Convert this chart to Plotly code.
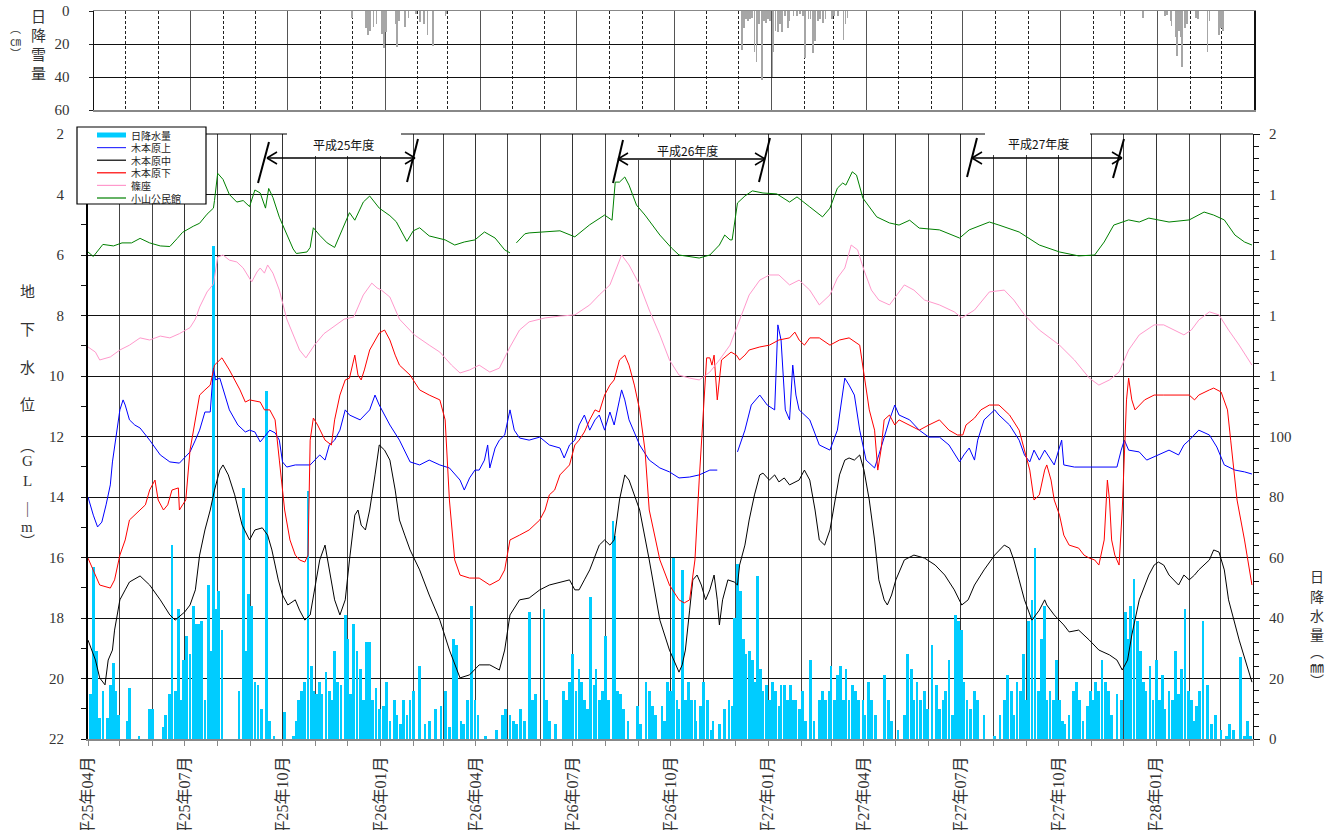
import plotly.graph_objects as go
import pandas as pd

START = pd.Timestamp("2013-04-01")
END = pd.Timestamp("2016-04-01")
DAY_MS = 86400000

# ---------------- data ----------------
quarter_ticks = ["2013-04-01", "2013-07-01", "2013-10-01", "2014-01-01", "2014-04-01", "2014-07-01",
                 "2014-10-01", "2015-01-01", "2015-04-01", "2015-07-01", "2015-10-01", "2016-01-01"]
quarter_labels = ["平25年04月", "平25年07月", "平25年10月", "平26年01月", "平26年04月", "平26年07月",
                  "平26年10月", "平27年01月", "平27年04月", "平27年07月", "平27年10月", "平28年01月"]
level_ticks = [2, 4, 6, 8, 10, 12, 14, 16, 18, 20, 22]
rain_ticks = [0, 20, 40, 60, 80, 100, 120, 140, 160, 180, 200]
rain_ticktext = ["0", "20", "40", "60", "80", "100", "1", "1", "1", "1", "2"]
snow_ticks = [0, 20, 40, 60]

# (days since 2013-04-01, value)
snow = [(244, 4), (257, 10), (259, 14.5), (261, 12), (264, 9.5), (267, 8), (272, 14), (274, 22.5), (276, 12.5),
        (285, 8), (286, 22), (288, 6), (294, 9.5), (297, 4.5), (304, 2), (308, 6.5), (312, 8), (315, 14.5),
        (320, 21), (332, 3), (333, 2),
        (612, 23.5), (614, 10), (616, 5), (618, 6), (620, 5), (622, 4), (624, 25), (626, 31), (627, 20), (628, 8),
        (631, 42), (633, 6), (635, 7), (637, 5), (639, 6), (641, 40), (642, 25), (644, 12), (646, 13), (648, 8),
        (650, 13), (653, 3), (656, 10), (657, 6), (661, 3), (664, 3), (667, 2), (670, 3), (672, 28.5), (675, 5),
        (677, 5), (679, 25.6), (681, 18), (684, 6), (686, 5), (689, 7), (691, 5), (697, 5), (699, 3), (703, 3),
        (708, 17.5), (710, 8), (712, 4),
        (970, 3), (991, 4.5), (1012, 3), (1014, 2.5), (1017, 6), (1018, 9), (1022, 16), (1023, 27), (1025, 12),
        (1027, 16), (1028, 34), (1031, 10.5), (1033, 8), (1041, 4), (1043, 5), (1052, 25), (1054, 6), (1063, 14.5),
        (1065, 10), (1067, 12)]

rain = [(2, 15), (5, 57), (8, 29), (11, 7), (14, 16), (18, 7), (21, 18), (24, 25), (26, 16), (29, 8), (37, 6),
        (39, 17), (48, 1), (58, 10), (61, 10), (71, 4), (73, 8), (77, 15), (79, 64), (82, 16), (85, 43), (87, 13),
        (90, 26), (93, 34), (96, 28), (99, 44), (102, 38), (104, 38), (107, 39), (110, 13), (113, 51), (116, 29),
        (118, 163), (120, 43), (123, 49), (126, 36), (142, 16), (146, 83), (149, 29), (151, 48), (154, 44),
        (157, 19), (160, 18), (163, 10), (168, 115), (171, 6), (175, 1), (185, 9), (193, 1), (196, 6), (198, 13),
        (201, 16), (204, 19), (207, 82), (210, 24), (212, 16), (215, 15), (218, 19), (220, 15), (224, 22),
        (227, 16), (229, 13), (232, 29), (235, 19), (238, 18), (242, 41), (244, 33), (247, 15), (250, 38),
        (253, 29), (256, 23), (259, 13), (262, 32), (265, 32), (268, 13), (271, 17), (274, 10), (278, 11),
        (281, 19), (284, 6), (288, 13), (290, 8), (294, 5), (297, 13), (300, 8), (303, 13), (306, 16), (312, 24),
        (317, 5), (321, 6), (327, 10), (332, 11), (336, 16), (340, 4), (344, 33), (347, 31), (351, 6), (353, 5),
        (357, 13), (361, 44), (364, 13), (367, 8), (374, 1), (384, 3), (390, 8), (393, 10), (397, 8), (400, 6),
        (403, 5), (407, 10), (411, 6), (415, 42), (418, 13), (421, 15), (429, 43), (431, 13), (434, 6), (440, 5),
        (447, 16), (450, 13), (453, 19), (456, 28), (459, 16), (462, 23), (464, 19), (467, 13), (470, 10),
        (473, 47), (476, 18), (478, 23), (481, 13), (484, 16), (487, 34), (490, 13), (494, 72), (495, 67),
        (498, 16), (501, 15), (504, 10), (508, 6), (517, 11), (520, 5), (525, 19), (528, 16), (531, 11), (534, 8),
        (540, 11), (542, 6), (545, 19), (548, 16), (551, 60), (554, 13), (556, 10), (559, 56), (562, 13),
        (565, 19), (568, 13), (571, 13), (572, 6), (576, 11), (579, 19), (583, 13), (586, 3), (588, 6), (594, 5),
        (599, 10), (603, 13), (606, 11), (608, 40), (611, 58), (614, 49), (617, 33), (619, 28), (622, 29),
        (625, 26), (628, 19), (630, 54), (633, 23), (635, 16), (638, 18), (641, 13), (644, 19), (647, 16),
        (650, 11), (652, 18), (655, 18), (658, 13), (661, 18), (664, 13), (666, 13), (669, 10), (672, 16),
        (675, 6), (680, 26), (683, 6), (688, 13), (691, 16), (694, 13), (697, 16), (699, 24), (702, 13), (705, 21),
        (708, 24), (711, 13), (713, 23), (716, 13), (719, 18), (722, 16), (725, 13), (729, 13), (731, 8),
        (734, 19), (737, 13), (741, 8), (749, 21), (753, 13), (756, 6), (762, 3), (768, 8), (771, 28), (775, 23),
        (777, 13), (780, 19), (783, 13), (787, 16), (790, 10), (794, 31), (798, 18), (801, 10), (805, 13),
        (807, 16), (810, 26), (813, 8), (816, 41), (819, 39), (822, 36), (824, 19), (827, 13), (830, 10),
        (834, 16), (837, 13), (843, 8), (853, 1), (858, 8), (862, 13), (865, 21), (869, 16), (871, 8), (874, 19),
        (877, 16), (880, 28), (883, 13), (885, 39), (888, 46), (891, 63), (894, 16), (897, 33), (900, 44),
        (902, 13), (905, 16), (908, 13), (911, 26), (914, 13), (917, 6), (919, 5), (923, 8), (927, 16), (930, 19),
        (933, 13), (936, 6), (940, 11), (943, 16), (946, 13), (948, 19), (951, 16), (954, 26), (957, 19),
        (960, 16), (963, 8), (968, 15), (972, 13), (976, 42), (979, 33), (981, 44), (984, 53), (987, 39),
        (990, 29), (993, 19), (995, 16), (999, 24), (1002, 13), (1005, 26), (1008, 13), (1011, 21), (1013, 10),
        (1017, 16), (1020, 13), (1023, 29), (1026, 15), (1029, 23), (1032, 43), (1035, 16), (1038, 13),
        (1041, 6), (1043, 11), (1046, 16), (1049, 39), (1053, 18), (1057, 5), (1061, 8), (1066, 3), (1071, 1),
        (1074, 5), (1078, 3), (1084, 27), (1088, 1), (1091, 6), (1094, 1)]

kimoto_upper = [(0, 14.00), (5, 14.60), (9, 14.99), (13, 14.83), (17, 14.26), (21, 13.60), (23, 12.84), (25, 12.35),
                (28, 11.45), (30, 11.12), (33, 10.79), (35, 10.96), (39, 11.45), (44, 11.62), (49, 11.72), (58, 12.12),
                (68, 12.61), (77, 12.84), (86, 12.88), (91, 12.71), (96, 12.51), (101, 12.12), (105, 11.79),
                (110, 11.19), (115, 11.19), (118, 9.74), (120, 10.13), (124, 10.07), (129, 10.63), (133, 11.12),
                (141, 11.62), (148, 11.85), (152, 11.79), (157, 11.85), (162, 12.18), (166, 12.02), (171, 11.79),
                (176, 11.88), (180, 12.12), (183, 12.84), (187, 13.01), (195, 12.94), (199, 12.94), (209, 12.94),
                (218, 12.61), (223, 12.78), (227, 12.28), (232, 12.12), (237, 11.79), (242, 11.12), (246, 11.29),
                (256, 11.45), (265, 11.12), (270, 10.63), (274, 10.96), (279, 11.29), (284, 11.62), (293, 12.12),
                (303, 12.84), (312, 12.94), (321, 12.78), (331, 12.94), (340, 13.04), (350, 13.44), (354, 13.77),
                (359, 13.37), (364, 13.11), (368, 13.11), (373, 12.78), (376, 12.28), (378, 13.04), (383, 12.38),
                (387, 12.12), (392, 11.95), (397, 11.12), (399, 11.45), (401, 11.79), (406, 12.05), (415, 12.12),
                (425, 12.02), (434, 12.28), (444, 12.38), (448, 12.71), (453, 12.28), (458, 12.12), (462, 11.62),
                (467, 11.29), (472, 11.79), (477, 11.45), (481, 11.29), (486, 11.79), (491, 11.19), (495, 11.62),
                (500, 10.79), (502, 10.46), (505, 10.79), (509, 11.45), (519, 12.28), (528, 12.78), (538, 13.04),
                (547, 13.17), (556, 13.37), (566, 13.34), (575, 13.27), (585, 13.11), (592, 13.11), (600, None),
                (611, 12.51), (618, 11.79), (624, 10.96), (632, 10.63), (639, 10.96), (646, 11.12), (649, 8.31),
                (652, 8.81), (656, 11.12), (660, 11.45), (663, 9.64), (666, 10.63), (669, 11.12), (679, 11.45),
                (688, 12.28), (698, 12.45), (705, 11.79), (709, 10.79), (712, 10.07), (716, 10.30), (721, 10.63),
                (726, 11.79), (732, 12.78), (740, 13.04), (744, 12.61), (754, 11.45), (759, 10.96), (763, 11.29),
                (773, 11.45), (782, 11.79), (791, 12.02), (801, 12.02), (810, 12.28), (820, 12.84), (824, 12.61),
                (829, 12.38), (834, 12.78), (837, 12.12), (843, 11.45), (853, 11.12), (857, 11.29), (867, 11.62),
                (876, 12.12), (881, 12.61), (886, 12.84), (890, 12.45), (895, 12.78), (900, 12.45), (909, 12.94),
                (916, 12.12), (918, 12.94), (928, 13.01), (942, 13.01), (951, 13.01), (961, 13.01), (968, 13.01),
                (972, 12.45), (975, 12.12), (979, 12.45), (989, 12.51), (996, 12.78), (1007, 12.61), (1017, 12.45),
                (1026, 12.61), (1031, 12.28), (1036, 12.12), (1045, 11.79), (1055, 11.95), (1062, 12.35),
                (1069, 12.94), (1079, 13.11), (1088, 13.17), (1095, 13.24)]

kimoto_middle = [(0, 18.73), (7, 19.39), (11, 19.98), (16, 20.21), (19, 19.39), (23, 19.06), (25, 18.40), (30, 17.40),
                 (35, 17.07), (39, 16.81), (49, 16.61), (58, 16.91), (68, 17.40), (77, 17.90), (82, 18.07),
                 (91, 17.80), (96, 17.57), (101, 17.07), (105, 15.92), (110, 15.09), (115, 14.43), (119, 13.77),
                 (124, 13.11), (127, 12.94), (132, 13.27), (138, 13.93), (145, 14.93), (152, 15.42), (157, 15.09),
                 (164, 15.02), (169, 15.26), (173, 15.75), (179, 16.74), (183, 17.24), (188, 17.57), (195, 17.40),
                 (199, 17.74), (204, 18.07), (209, 17.90), (213, 17.07), (218, 16.08), (223, 15.59), (227, 16.41),
                 (232, 17.40), (237, 17.90), (242, 17.40), (246, 16.08), (251, 14.60), (254, 14.43), (257, 14.93),
                 (261, 15.09), (265, 14.43), (270, 13.27), (274, 12.28), (279, 12.45), (284, 12.78), (289, 13.77),
                 (293, 14.76), (298, 15.26), (303, 15.75), (312, 16.41), (321, 17.24), (331, 18.07), (340, 19.06),
                 (350, 19.98), (359, 19.88), (368, 19.55), (378, 19.55), (387, 19.72), (392, 19.06), (397, 17.90),
                 (406, 17.40), (415, 17.34), (425, 17.07), (434, 16.91), (444, 16.81), (453, 16.74), (458, 17.07),
                 (462, 17.07), (467, 16.74), (472, 16.41), (481, 15.59), (486, 15.42), (491, 15.59), (495, 15.42),
                 (500, 14.10), (505, 13.27), (509, 13.44), (519, 14.43), (528, 16.08), (538, 18.07), (547, 19.06),
                 (556, 19.79), (559, 19.55), (562, 19.06), (566, 17.74), (569, 16.74), (573, 16.58), (577, 16.91),
                 (581, 17.40), (585, 17.07), (589, 16.58), (592, 17.40), (594, 18.23), (597, 17.40), (602, 16.74),
                 (608, 16.81), (611, 16.91), (613, 16.25), (618, 15.59), (622, 14.76), (627, 13.93), (632, 13.27),
                 (635, 13.21), (641, 13.44), (646, 13.27), (650, 13.50), (655, 13.37), (660, 13.60), (669, 13.44),
                 (674, 13.11), (679, 13.44), (684, 14.43), (688, 15.42), (693, 15.59), (698, 15.09), (703, 14.10),
                 (707, 13.27), (712, 12.78), (716, 12.71), (721, 12.78), (726, 12.61), (730, 13.11), (735, 14.10),
                 (740, 15.42), (744, 16.74), (749, 17.40), (752, 17.57), (756, 17.24), (760, 16.74), (768, 16.08),
                 (777, 15.92), (787, 16.02), (797, 16.25), (806, 16.58), (815, 17.07), (822, 17.57), (828, 17.40),
                 (834, 16.91), (843, 16.41), (853, 15.92), (862, 15.59), (867, 15.69), (871, 16.08), (876, 16.74),
                 (881, 17.40), (888, 18.07), (895, 17.74), (900, 17.40), (902, 17.57), (909, 17.90), (918, 18.23),
                 (923, 18.46), (932, 18.40), (942, 18.73), (951, 19.06), (961, 19.22), (968, 19.39), (973, 19.72),
                 (978, 19.39), (982, 18.56), (989, 17.40), (998, 16.58), (1003, 16.25), (1007, 16.15), (1012, 16.25),
                 (1017, 16.58), (1026, 16.91), (1031, 16.58), (1036, 16.74), (1041, 16.58), (1045, 16.41),
                 (1055, 16.08), (1059, 15.75), (1064, 15.82), (1069, 16.41), (1073, 17.40), (1083, 18.73),
                 (1095, 20.12)]

kimoto_lower = [(0, 16.02), (7, 16.58), (11, 16.91), (21, 17.01), (25, 16.74), (30, 15.92), (35, 15.42), (39, 14.76),
                (49, 14.43), (54, 14.26), (58, 13.77), (63, 13.44), (66, 14.10), (71, 14.43), (75, 14.26), (79, 13.77),
                (85, 13.70), (86, 14.43), (89, 14.26), (92, 14.10), (96, 12.45), (101, 11.45), (105, 10.63),
                (110, 10.46), (115, 10.30), (119, 9.64), (126, 9.40), (133, 9.80), (138, 10.13), (143, 10.46),
                (148, 10.86), (152, 10.79), (162, 10.86), (166, 11.12), (171, 11.12), (176, 11.45), (180, 12.78),
                (185, 14.43), (190, 15.42), (195, 15.92), (199, 16.08), (204, 16.15), (207, 15.92), (209, 12.12),
                (212, 11.39), (216, 11.62), (223, 12.12), (229, 12.28), (232, 11.45), (237, 10.63), (242, 10.13),
                (246, 10.07), (251, 9.31), (254, 9.97), (257, 10.13), (260, 9.80), (265, 9.14), (270, 8.81),
                (274, 8.58), (279, 8.48), (284, 8.81), (289, 9.31), (293, 9.64), (303, 9.97), (312, 10.46),
                (321, 10.63), (331, 10.79), (336, 11.45), (340, 14.10), (345, 16.08), (350, 16.58), (359, 16.68),
                (368, 16.68), (378, 16.91), (387, 16.74), (392, 16.41), (397, 15.42), (406, 15.26), (415, 15.09),
                (425, 14.76), (430, 14.43), (434, 13.93), (439, 13.77), (444, 13.27), (448, 13.11), (453, 12.94),
                (458, 12.28), (462, 12.12), (467, 11.85), (472, 11.45), (477, 11.12), (481, 11.19), (486, 10.63),
                (491, 10.30), (495, 10.13), (500, 9.47), (505, 9.31), (509, 9.64), (514, 10.30), (519, 11.12),
                (524, 12.45), (528, 14.43), (538, 16.08), (547, 16.91), (556, 17.40), (561, 17.50), (566, 17.40),
                (571, 16.08), (575, 13.44), (580, 10.79), (582, 9.40), (585, 9.40), (587, 9.64), (589, 9.31),
                (592, 10.79), (596, 9.47), (602, 9.31), (605, 9.21), (610, 9.31), (613, 9.47), (618, 9.31),
                (622, 9.14), (632, 9.04), (641, 8.98), (650, 8.81), (660, 8.74), (665, 8.55), (669, 8.81),
                (674, 8.98), (679, 8.74), (688, 8.74), (698, 8.98), (707, 8.81), (716, 8.74), (726, 8.98),
                (735, 11.12), (740, 11.79), (743, 13.11), (746, 12.45), (749, 11.45), (754, 11.29), (759, 11.62),
                (763, 11.45), (773, 11.62), (782, 11.79), (791, 11.62), (801, 11.45), (810, 11.79), (818, 11.95),
                (823, 11.95), (826, 11.62), (834, 11.39), (840, 11.12), (848, 10.96), (857, 10.96), (867, 11.29),
                (876, 11.79), (886, 13.11), (890, 14.10), (895, 13.93), (900, 13.11), (902, 12.94), (906, 13.44),
                (909, 14.10), (914, 14.60), (918, 15.26), (923, 15.59), (932, 15.69), (937, 15.92), (942, 16.02),
                (947, 16.08), (951, 16.25), (956, 15.42), (959, 13.44), (961, 14.10), (963, 15.42), (966, 15.92),
                (970, 16.25), (973, 14.43), (977, 10.79), (979, 10.07), (982, 10.79), (985, 11.12), (994, 10.79),
                (1003, 10.63), (1012, 10.63), (1026, 10.63), (1036, 10.63), (1041, 10.79), (1045, 10.63),
                (1055, 10.46), (1059, 10.40), (1066, 10.53), (1072, 11.12), (1075, 12.12), (1081, 14.10),
                (1088, 15.42), (1095, 16.91)]

shinoza = [(0, 9.04), (7, 9.21), (11, 9.47), (21, 9.37), (30, 9.14), (39, 8.98), (49, 8.74), (58, 8.81), (68, 8.68),
           (77, 8.74), (86, 8.60), (96, 8.40), (101, 8.12), (105, 7.72), (112, 7.22), (118, 6.96), (122, 6.07),
           (127, 6.00), (133, 6.17), (140, 6.23), (146, 6.43), (154, 6.89), (159, 6.56), (162, 6.43), (166, 6.60),
           (169, 6.33), (174, 6.60), (180, 7.16), (187, 8.12), (195, 8.80), (199, 9.14), (205, 9.40), (213, 8.98),
           (222, 8.60), (232, 8.35), (241, 8.12), (250, 8.05), (259, 7.32), (267, 6.93), (272, 7.09), (276, 7.16),
           (284, 7.39), (293, 8.12), (298, 8.31), (307, 8.64), (321, 8.98), (331, 9.21), (342, 9.64), (350, 9.90),
           (359, 9.80), (368, 9.64), (378, 9.87), (387, 9.74), (397, 9.04), (406, 8.48), (415, 8.21), (430, 8.08),
           (444, 8.02), (458, 7.98), (472, 7.65), (481, 7.32), (491, 6.99), (498, 6.33), (502, 6.00), (509, 6.33),
           (519, 6.99), (528, 7.82), (538, 8.64), (547, 9.47), (556, 9.97), (566, 10.07), (575, 10.13),
           (585, 9.87), (594, 9.47), (604, 8.98), (613, 8.15), (622, 7.32), (632, 6.83), (641, 6.66), (650, 6.66),
           (660, 6.99), (669, 6.83), (679, 7.16), (688, 7.65), (698, 7.32), (705, 6.76), (712, 6.43), (718, 5.67),
           (724, 5.83), (730, 6.50), (737, 7.16), (744, 7.49), (754, 7.65), (761, 7.32), (768, 6.99), (777, 7.16),
           (787, 7.49), (801, 7.65), (815, 7.88), (822, 8.08), (834, 7.82), (848, 7.22), (862, 7.16), (871, 7.49),
           (881, 7.98), (895, 8.48), (914, 8.98), (928, 9.47), (942, 10.07), (951, 10.30), (961, 10.13),
           (970, 9.87), (979, 9.14), (989, 8.64), (1003, 8.31), (1012, 8.31), (1022, 8.48), (1031, 8.64),
           (1038, 8.48), (1045, 8.15), (1055, 7.88), (1064, 7.98), (1073, 8.48), (1083, 8.98), (1095, 9.64)]

koyama = [(0, 5.90), (5, 6.05), (14, 5.65), (24, 5.70), (32, 5.60), (41, 5.60), (49, 5.45), (58, 5.60), (68, 5.70),
          (77, 5.72), (84, 5.45), (89, 5.25), (99, 5.05), (105, 4.95), (112, 4.65), (118, 4.45), (119, 4.20),
          (122, 3.30), (127, 3.50), (133, 4.00), (140, 4.25), (146, 4.20), (152, 4.40), (157, 3.85), (162, 3.95),
          (167, 4.45), (170, 3.80), (174, 4.10), (180, 4.75), (187, 5.30), (193, 5.80), (196, 5.95), (206, 5.90),
          (209, 5.75), (212, 5.10), (218, 5.35), (225, 5.60), (232, 5.75), (235, 5.50), (240, 5.10), (246, 4.60),
          (251, 4.85), (259, 4.25), (265, 4.05), (274, 4.45), (284, 4.70), (290, 4.90), (300, 5.55), (306, 5.20),
          (312, 5.10), (321, 5.37), (336, 5.50), (345, 5.67), (354, 5.57), (364, 5.50), (373, 5.24), (383, 5.44),
          (392, 5.83), (397, 5.93), (400, None), (403, 5.60), (411, 5.30), (415, 5.27), (430, 5.24), (444, 5.20),
          (458, 5.40), (472, 5.00), (486, 4.68), (493, 4.85), (496, 3.59), (500, 3.59), (505, 3.42), (509, 3.69),
          (516, 4.35), (524, 4.68), (538, 5.34), (549, 5.77), (556, 6.00), (575, 6.10), (585, 6.00), (594, 5.67),
          (599, 5.34), (604, 5.50), (606, 5.50), (611, 4.28), (618, 4.05), (625, 3.88), (635, 3.95), (648, 3.98),
          (660, 4.25), (667, 4.08), (679, 4.41), (691, 4.74), (698, 4.45), (705, 3.79), (710, 3.62), (713, 3.69),
          (719, 3.25), (723, 3.36), (729, 4.12), (742, 4.74), (754, 4.94), (763, 5.01), (773, 4.85), (782, 5.11),
          (801, 5.17), (820, 5.44), (829, 5.17), (848, 4.91), (857, 5.01), (876, 5.24), (895, 5.67), (914, 5.90),
          (932, 6.03), (947, 6.00), (956, 5.57), (965, 5.01), (979, 4.84), (989, 4.91), (998, 4.78), (1017, 4.91),
          (1036, 4.84), (1050, 4.58), (1059, 4.68), (1069, 4.84), (1079, 5.34), (1088, 5.57), (1095, 5.67)]

level_series = [("木本原上", kimoto_upper, "#0000FF"),
                ("木本原中", kimoto_middle, "#000000"),
                ("木本原下", kimoto_lower, "#FF0000"),
                ("篠座", shinoza, "#FF99CC"),
                ("小山公民館", koyama, "#008000")]


def to_dates(pts):
    return [START + pd.Timedelta(days=d) for d, _ in pts]


def to_vals(pts):
    return [v for _, v in pts]


# ---------------- figure ----------------
W, H = 1339, 830
SERIF = "Liberation Serif, Noto Sans CJK JP, serif"
CJK = "Noto Sans CJK JP, sans-serif"


def px(x):
    return x / W


def py(y):
    return 1 - y / H


fig = go.Figure()
fig.add_trace(go.Bar(x=to_dates(snow), y=to_vals(snow), xaxis="x", yaxis="y",
                     marker=dict(color="#A6A6A6", line=dict(width=0)), width=1.6 * DAY_MS, name="日降雪量"))
fig.add_trace(go.Bar(x=to_dates(rain), y=to_vals(rain), xaxis="x2", yaxis="y2",
                     marker=dict(color="#00CCFF", line=dict(width=0)), width=2.6 * DAY_MS, name="日降水量"))
for name, pts, color in level_series:
    fig.add_trace(go.Scatter(x=to_dates(pts), y=to_vals(pts), xaxis="x2", yaxis="y3", mode="lines",
                             line=dict(color=color, width=1), name=name, connectgaps=False))

shapes = []


def seg(x0, y0, x1, y1, color="black", width=1.0):
    shapes.append(dict(type="line", xref="paper", yref="paper", x0=px(x0), y0=py(y0), x1=px(x1), y1=py(y1),
                       line=dict(color=color, width=width), layer="above"))


def box(x0, y0, x1, y1, line_color=None, width=0):
    shapes.append(dict(type="rect", xref="paper", yref="paper", x0=px(x0), y0=py(y1), x1=px(x1), y1=py(y0),
                       fillcolor="white", line=dict(color=line_color or "white", width=width), layer="above"))


# top border of lower panel
seg(88, 134, 1253, 134, "black", 1)
# white text boxes for fiscal year labels
box(287, 125, 401, 156)
box(628, 137, 752, 160)
box(985, 125, 1090, 155)

# fiscal-year arrows
fy_labels = [("平成25年度", 343, 145, 267, 415, 158, (258, 183, 269, 142), (407, 182, 418, 139)),
             ("平成26年度", 687, 150, 618, 765, 159, (613, 183, 623, 140), (759, 182, 770, 138)),
             ("平成27年度", 1038, 143, 972, 1122, 158, (967, 177, 977, 138), (1113, 178, 1124, 139))]
annotations = []
for text, tx, ty, ax0, ax1, ay, s1, s2 in fy_labels:
    seg(ax0, ay, ax1, ay, "black", 1.5)
    seg(ax0, ay, ax0 + 10, ay - 6, "black", 1.5)
    seg(ax0, ay, ax0 + 10, ay + 6, "black", 1.5)
    seg(ax1, ay, ax1 - 10, ay - 6, "black", 1.5)
    seg(ax1, ay, ax1 - 10, ay + 6, "black", 1.5)
    seg(*s1, "black", 2)
    seg(*s2, "black", 2)
    annotations.append(dict(text=text, x=px(tx), y=py(ty), xref="paper", yref="paper", showarrow=False,
                            font=dict(family=CJK, size=12, color="#111"), xanchor="center", yanchor="middle"))

# custom legend
box(77, 127, 206, 204, "black", 1.2)
legend_items = [("日降水量", "#00CCFF", 5), ("木本原上", "#3333FF", 1.2), ("木本原中", "#000000", 1.2),
                ("木本原下", "#FF0000", 1.2), ("篠座", "#FF99CC", 1.2), ("小山公民館", "#008000", 1.2)]
for i, (name, color, w) in enumerate(legend_items):
    yy = 135 + i * 12.6
    seg(97, yy, 126, yy, color, w)
    annotations.append(dict(text=name, x=px(129), y=py(yy), xref="paper", yref="paper", showarrow=False,
                            font=dict(family=CJK, size=10, color="#222"), xanchor="left", yanchor="middle"))

# axis titles (vertical text)
left_title = [("地", 292), ("下", 330), ("水", 368), ("位", 405), ("︵", 446), ("G", 461), ("L", 481),
              ("｜", 510), ("m", 527), ("︶", 542)]
snow_title = [("日", 17), ("降", 36), ("雪", 55), ("量", 74)]
snow_unit = [("︵", 29), ("㎝", 42), ("︶", 54)]
rain_title = [("日", 577), ("降", 597), ("水", 616), ("量", 635), ("︵", 652), ("㎜", 667), ("︶", 681)]
for chars, xx, size in [(left_title, 27, 15), (snow_title, 38, 15), (snow_unit, 15, 11), (rain_title, 1317, 14)]:
    for ch, yy in chars:
        annotations.append(dict(text=ch, x=px(xx), y=py(yy), xref="paper", yref="paper", showarrow=False,
                                font=dict(family=SERIF, size=size, color="#333"),
                                xanchor="center", yanchor="middle"))

fig.update_layout(
    width=W, height=H, margin=dict(l=0, r=0, t=0, b=0, autoexpand=False),
    template="none", paper_bgcolor="white", plot_bgcolor="white",
    showlegend=False, barmode="overlay", bargap=0,
    shapes=shapes, annotations=annotations,
    xaxis=dict(domain=[px(94), px(1254)], anchor="y", type="date", range=[START, END],
               tickvals=quarter_ticks, showticklabels=False, ticks="",
               showgrid=True, gridcolor="#555", gridwidth=1,
               minor=dict(dtick="M1", tick0="2013-04-01", showgrid=True, gridcolor="#222",
                          griddash="3px,2px", gridwidth=1, ticks=""),
               showline=True, mirror=True, linecolor="#888", linewidth=1.5, zeroline=False, automargin=False),
    yaxis=dict(domain=[py(110), py(11)], anchor="x", range=[60, 0], tickvals=snow_ticks,
               ticks="outside", ticklen=4, tickcolor="#222", ticklabelstandoff=16,
               tickfont=dict(family=SERIF, size=15, color="#333"),
               showgrid=True, gridcolor="#111", gridwidth=1,
               showline=True, mirror=True, linecolor="#111", linewidth=1.5, zeroline=False, automargin=False),
    xaxis2=dict(domain=[px(88), px(1253)], anchor="y2", type="date", range=[START, END],
                tickvals=quarter_ticks, ticktext=quarter_labels, tickangle=-90,
                ticks="outside", ticklen=5, tickcolor="#888", ticklabelstandoff=4,
                tickfont=dict(family=SERIF, size=16, color="#333"),
                showgrid=True, gridcolor="#333", gridwidth=1,
                minor=dict(dtick="M1", tick0="2013-04-01", ticks="outside", ticklen=5, tickcolor="#888",
                           showgrid=True, gridcolor="#444", gridwidth=1),
                showline=True, linecolor="#888", linewidth=2, zeroline=False, automargin=False),
    yaxis2=dict(domain=[py(739), py(134)], anchor="x2", side="right", range=[0, 200],
                tickvals=rain_ticks, ticktext=rain_ticktext, ticks="outside", ticklen=6, tickcolor="#111",
                minor=dict(dtick=4, ticks="outside", ticklen=5, tickcolor="#111"),
                ticklabelstandoff=6, tickfont=dict(family=SERIF, size=15, color="#333"),
                showgrid=False, showline=True, linecolor="#111", linewidth=1, zeroline=False, automargin=False),
    yaxis3=dict(overlaying="y2", anchor="x2", side="left", range=[22, 2], tickvals=level_ticks,
                ticks="outside", ticklen=5, tickcolor="#111",
                minor=dict(dtick=1, ticks="outside", ticklen=5, tickcolor="#111"),
                ticklabelstandoff=14, tickfont=dict(family=SERIF, size=15, color="#333"),
                showgrid=True, gridcolor="#111", gridwidth=1,
                showline=True, linecolor="#000", linewidth=2, zeroline=False, automargin=False),
)

fig.write_html("out.html", config={"displayModeBar": False, "staticPlot": True},
               post_script="document.body.style.margin='0px';document.body.style.overflow='hidden';")
